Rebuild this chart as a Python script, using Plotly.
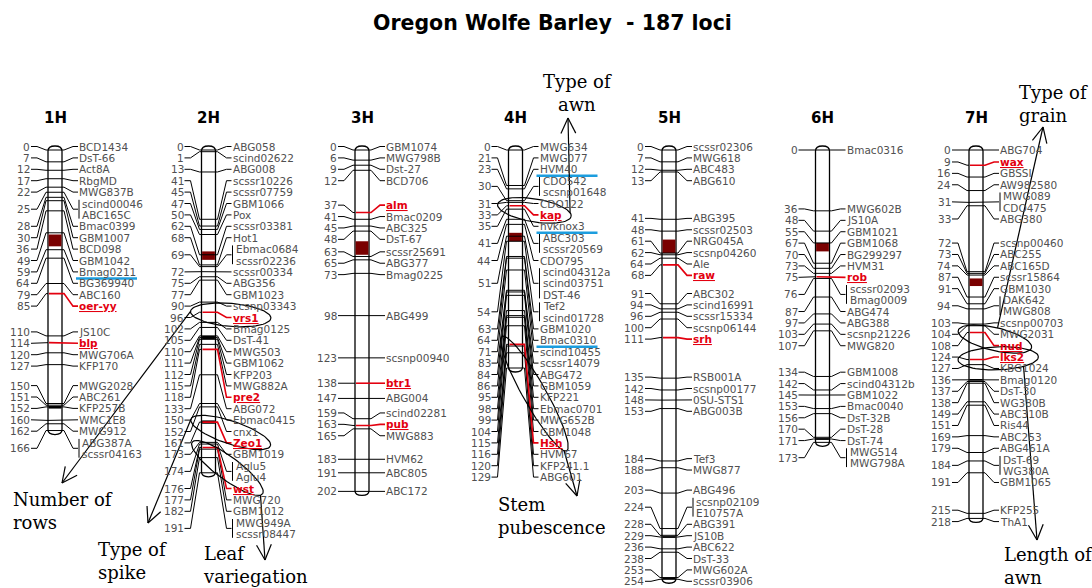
import math
import plotly.graph_objects as go

TITLE = "Oregon Wolfe Barley  - 187 loci"
CHROMOSOMES = ["1H", "2H", "3H", "4H", "5H", "6H", "7H"]

cm_1H = [0, 7, 12, 17, 22, 25, 25, 28, 30, 36, 49, 59, 64, 79, 85, 110, 114, 120, 127, 150, 151, 152, 160, 162, 166, 166]
loci_1H = ["BCD1434", "DsT-66", "Act8A", "RbgMD", "MWG837B", "scind00046", "ABC165C", "Bmac0399", "GBM1007", "BCD098",
           "GBM1042", "Bmag0211", "BG369940", "ABC160", "oer-yy", "JS10C", "blp", "MWG706A", "KFP170", "MWG2028",
           "ABC261", "KFP257B", "WMC1E8", "MWG912", "ABG387A", "scssr04163"]

cm_2H = [0, 1, 13, 41, 45, 47, 50, 62, 68, 69, 69, 72, 75, 77, 90, 96, 102, 105, 110, 111, 112, 115, 118, 133, 150,
         152, 161, 173, 174, 174, 176, 177, 182, 191, 191]
loci_2H = ["ABG058", "scind02622", "ABG008", "scssr10226", "scssr07759", "GBM1066", "Pox", "scssr03381", "Hot1",
           "Ebmac0684", "scssr02236", "scssr00334", "ABG356", "GBM1023", "scsnp03343", "vrs1", "Bmag0125", "DsT-41",
           "MWG503", "GBM1062", "KFP203", "MWG882A", "pre2", "ABG072", "Ebmac0415", "cnx1", "Zeo1", "GBM1019",
           "Aglu5", "Aglu4", "wst", "MWG720", "GBM1012", "MWG949A", "scssr08447"]

cm_3H = [0, 6, 9, 12, 37, 41, 45, 48, 63, 65, 73, 98, 123, 138, 147, 159, 163, 165, 183, 191, 202]
loci_3H = ["GBM1074", "MWG798B", "Dst-27", "BCD706", "alm", "Bmac0209", "ABC325", "DsT-67", "scssr25691", "ABG377",
           "Bmag0225", "ABG499", "scsnp00940", "btr1", "ABG004", "scind02281", "pub", "MWG883", "HVM62", "ABC805",
           "ABC172"]

cm_4H = [0, 21, 23, 30, 30, 31, 33, 35, 41, 41, 44, 51, 51, 51, 54, 54, 63, 64, 71, 83, 84, 86, 95, 98, 99, 104,
         115, 116, 120, 129]
loci_4H = ["MWG634", "MWG077", "HVM40", "CDO542", "scsnp01648", "CDO122", "kap", "hvknox3", "ABC303", "scssr20569",
           "CDO795", "scind04312a", "scind03751", "DST-46", "Tef2", "scind01728", "GBM1020", "Bmac0310",
           "scind10455", "scssr14079", "ABG472", "GBM1059", "KFP221", "Ebmac0701", "MWG652B", "GBM1048", "Hsh",
           "HVM67", "KFP241.1", "ABG601"]

cm_5H = [0, 7, 12, 13, 41, 48, 61, 62, 64, 68, 91, 94, 96, 100, 111, 135, 142, 148, 153, 184, 188, 203, 224, 224,
         228, 229, 236, 238, 253, 254]
loci_5H = ["scssr02306", "MWG618", "ABC483", "ABG610", "ABG395", "scssr02503", "NRG045A", "scsnp04260", "Ale", "raw",
           "ABC302", "scind16991", "scssr15334", "scsnp06144", "srh", "RSB001A", "scsnp00177", "0SU-STS1", "ABG003B",
           "Tef3", "MWG877", "ABG496", "scsnp02109", "E10757A", "ABG391", "JS10B", "ABC622", "DsT-33", "MWG602A",
           "scssr03906"]

cm_6H = [0, 36, 48, 55, 67, 70, 73, 75, 76, 76, 87, 97, 103, 107, 134, 142, 145, 153, 156, 170, 171, 173, 173]
loci_6H = ["Bmac0316", "MWG602B", "JS10A", "GBM1021", "GBM1068", "BG299297", "HVM31", "rob", "scssr02093",
           "Bmag0009", "ABG474", "ABG388", "scsnp21226", "MWG820", "GBM1008", "scind04312b", "GBM1022", "Bmac0040",
           "DsT-32B", "DsT-28", "DsT-74", "MWG514", "MWG798A"]

cm_7H = [0, 9, 16, 24, 31, 31, 33, 72, 73, 74, 87, 91, 94, 94, 103, 104, 108, 124, 127, 136, 137, 138, 149, 151, 169,
         179, 184, 184, 191, 215, 218]
loci_7H = ["ABG704", "wax", "GBSSI", "AW982580", "MWG089", "CDO475", "ABG380", "scsnp00460", "ABC255", "ABC165D",
           "scssr15864", "GBM1030", "DAK642", "MWG808", "scsnp00703", "MWG2031", "nud", "lks2", "KBG1024",
           "Bmag0120", "DsT-30", "WG380B", "ABC310B", "Ris44", "ABC253", "ABG461A", "DsT-69", "WG380A", "GBM1065",
           "KFP255", "ThA1"]

CM = [cm_1H, cm_2H, cm_3H, cm_4H, cm_5H, cm_6H, cm_7H]
LOCI = [loci_1H, loci_2H, loci_3H, loci_4H, loci_5H, loci_6H, loci_7H]

TRAITS = ["oer-yy", "blp", "vrs1", "pre2", "Zeo1", "wst", "alm", "btr1", "pub", "kap", "Hsh", "raw", "srh", "rob",
          "wax", "nud", "lks2"]
HIGHLIGHTED = ["Bmag0211", "HVM40", "hvknox3", "Bmac0310"]

CENTROMERE_START = [50, 60, 54, 49, 53, 55, 76]
CENTROMERE_END = [57, 65, 62, 54, 61, 60, 80.5]

BAND_CHROM = ["1H", "2H", "2H", "5H", "5H", "6H", "7H"]
BAND_START = [151.5, 110, 160, 228.5, 253, 170.5, 135.5]
BAND_END = [153, 112, 162, 229.5, 254, 171.5, 136.5]

CALLOUT_TRAIT = ["vrs1", "Zeo1", "wst", "kap", "Hsh", "nud", "lks2"]
CALLOUT_TEXT = ["Number of<br>rows", "Type of<br>spike", "Leaf<br>variegation", "Type of<br>awn",
                "Stem<br>pubescence", "Type of<br>grain", "Length of<br>awn"]

# ---------------- layout / style constants ----------------
W, H = 1092, 588
X0, DX = 55, 153.5
Y0, K = 150, 1.69
LH = 11.4
HW = 7
FONT = "DejaVu Sans"
SERIF = "DejaVu Serif"
FS = 10.5
GREY = "#505050"
RED = "#E3000F"
BLUE = "#1C9DDE"
DARK = "#7A0000"

# callout geometry (text position, anchor, arrow tip, point on ellipse)
CALLOUT_STYLE = {
    "vrs1": dict(tx=12, ty=511, anchor="left", tip=(62, 483), t=math.pi),
    "Zeo1": dict(tx=97, ty=561, anchor="left", tip=(148, 523), t=math.pi),
    "wst": dict(tx=202, ty=565, anchor="left", tip=(265, 560), t=0.2),
    "kap": dict(tx=577, ty=93, anchor="center", tip=(568, 118), t=-0.3),
    "Hsh": dict(tx=497, ty=516, anchor="left", tip=(577, 496), t=0.2),
    "nud": dict(tx=1018, ty=104, anchor="left", tip=(1043, 127), t=-math.pi / 2),
    "lks2": dict(tx=1003, ty=566, anchor="left", tip=(1037, 540), t=0.9),
}


def ypx(cm):
    return Y0 + cm * K


def spread(ideal, heights, ymin, ymax):
    clusters = []
    for i in range(len(ideal)):
        clusters.append([[i], ideal[i] - heights[i] / 2])
        while True:
            if len(clusters) == 1:
                if clusters[0][1] < ymin:
                    clusters[0][1] = ymin
                break
            (ia, ta), (ib, tb) = clusters[-2], clusters[-1]
            ha = sum(heights[j] for j in ia)
            if ta + ha > tb + 1e-6:
                items = ia + ib
                off = 0.0
                s = 0.0
                for j in items:
                    s += ideal[j] - off - heights[j] / 2
                    off += heights[j]
                clusters[-2:] = [[items, s / len(items)]]
            else:
                break
    # bottom limit: push clusters up if needed
    limit = ymax
    for cl in reversed(clusters):
        hh = sum(heights[j] for j in cl[0])
        if cl[1] + hh > limit:
            cl[1] = limit - hh
        limit = cl[1]
    tops = {}
    for items, t in clusters:
        off = 0.0
        for j in items:
            tops[j] = t + off
            off += heights[j]
    return [tops[i] for i in range(len(ideal))]


bx, by = [], []      # black lines
rx, ry = [], []      # red lines
ux, uy = [], []      # blue underlines
ex, ey = [], []      # ellipses + arrows


def seg(xs, ys, pts):
    for p in pts:
        xs.append(p[0])
        ys.append(p[1])
    xs.append(None)
    ys.append(None)


shapes = []
annotations = []
trait_geom = {}

annotations.append(dict(x=W / 2 + 6, y=23, text="<b>" + TITLE + "</b>", showarrow=False, xref="x", yref="y",
                        font=dict(family=FONT, size=20.5, color="black"), xanchor="center", yanchor="middle"))

for ci, chrom in enumerate(CHROMOSOMES):
    c = X0 + ci * DX
    cms = CM[ci]
    names = LOCI[ci]
    top = Y0 - 4
    bot = ypx(max(cms)) + 4
    shapes.append(dict(type="path", xref="x", yref="y", layer="below",
                       path=(f"M {c - HW},{top + 5} Q {c - HW},{top} {c},{top} Q {c + HW},{top} {c + HW},{top + 5} "
                             f"L {c + HW},{bot - 5} Q {c + HW},{bot} {c},{bot} Q {c - HW},{bot} {c - HW},{bot - 5} Z"),
                       fillcolor="white", line=dict(color="black", width=1.3)))
    shapes.append(dict(type="rect", xref="x", yref="y", layer="below",
                       x0=c - HW + 0.6, x1=c + HW - 0.6, y0=ypx(CENTROMERE_START[ci]), y1=ypx(CENTROMERE_END[ci]),
                       fillcolor=DARK, line=dict(width=0)))
    for bc, b0, b1 in zip(BAND_CHROM, BAND_START, BAND_END):
        if bc == chrom:
            shapes.append(dict(type="rect", xref="x", yref="y", layer="below",
                               x0=c - HW + 0.6, x1=c + HW - 0.6, y0=ypx(b0), y1=ypx(b1),
                               fillcolor="black", line=dict(width=0)))
    annotations.append(dict(x=c, y=118, text="<b>" + chrom + "</b>", showarrow=False, xref="x", yref="y",
                            font=dict(family=FONT, size=15, color="black"), xanchor="center", yanchor="middle"))

    groups = []
    for cm, nm in zip(cms, names):
        if groups and groups[-1][0] == cm:
            groups[-1][1].append(nm)
        else:
            groups.append([cm, [nm]])
    ideal = [ypx(g[0]) for g in groups]
    heights = [len(g[1]) * LH for g in groups]
    tops = spread(ideal, heights, Y0 - 3.5 - LH / 2, H - 1)

    for g, t0, hh, ty in zip(groups, tops, heights, ideal):
        gc = t0 + hh / 2
        is_trait = any(n in TRAITS for n in g[1])
        annotations.append(dict(x=c - 24, y=gc, text=str(g[0]), showarrow=False, xref="x", yref="y",
                                font=dict(family=FONT, size=FS, color=GREY), xanchor="right", yanchor="middle",
                                borderpad=0))
        seg(bx, by, [(c - 24, gc), (c - 18, gc), (c - 9, ty), (c - HW, ty)])
        if is_trait:
            seg(rx, ry, [(c - HW + 1, ty), (c + HW, ty), (c + 9, ty), (c + 18, gc), (c + 23, gc)])
        else:
            seg(bx, by, [(c - HW, ty), (c + HW, ty), (c + 9, ty), (c + 18, gc), (c + 23, gc)])
        multi = len(g[1]) > 1
        if multi:
            seg(bx, by, [(c + 24, t0 + 2), (c + 24, t0 + hh - 2)])
        x_text = c + 26 if multi else c + 23
        for k, nm in enumerate(g[1]):
            ry_ = t0 + LH / 2 + k * LH
            if nm in TRAITS:
                txt = "<b><u>" + nm + "</u></b>"
                col = RED
                trait_geom[nm] = (c, ty, x_text, ry_, nm)
            else:
                txt = nm
                col = GREY
            annotations.append(dict(x=x_text, y=ry_, text=txt, showarrow=False, xref="x", yref="y",
                                    font=dict(family=FONT, size=FS, color=col), xanchor="left",
                                    yanchor="middle", borderpad=0))
            if nm in HIGHLIGHTED:
                seg(ux, uy, [(c + 21, ry_ + 6.5), (c + 82, ry_ + 6.5)])

for trait, text in zip(CALLOUT_TRAIT, CALLOUT_TEXT):
    st = CALLOUT_STYLE[trait]
    c, ty, xt, ly, nm = trait_geom[trait]
    p1 = (c - 9, ty)
    p2 = (xt + len(nm) * 6.6 + 4, ly)
    cx, cy = (p1[0] + p2[0]) / 2, (p1[1] + p2[1]) / 2
    dx, dy = p2[0] - p1[0], p2[1] - p1[1]
    L = math.hypot(dx, dy)
    ax_, ay_ = dx / L, dy / L
    vx, vy = -ay_, ax_
    a = L / 2 + 9
    b = 11.5
    pts = []
    for i in range(73):
        t = 2 * math.pi * i / 72
        pts.append((cx + a * math.cos(t) * ax_ + b * math.sin(t) * vx,
                    cy + a * math.cos(t) * ay_ + b * math.sin(t) * vy))
    seg(ex, ey, pts)
    t = st["t"]
    start = (cx + a * math.cos(t) * ax_ + b * math.sin(t) * vx, cy + a * math.cos(t) * ay_ + b * math.sin(t) * vy)
    tip = st["tip"]
    seg(ex, ey, [start, tip])
    ang = math.atan2(start[1] - tip[1], start[0] - tip[0])
    arm = 17
    for s in (-0.45, 0.45):
        seg(ex, ey, [tip, (tip[0] + arm * math.cos(ang + s), tip[1] + arm * math.sin(ang + s))])
    annotations.append(dict(x=st["tx"], y=st["ty"], text=text, showarrow=False, xref="x", yref="y",
                            font=dict(family=SERIF, size=18, color="black"), xanchor=st["anchor"],
                            align=st["anchor"], yanchor="middle", borderpad=0))

fig = go.Figure()
fig.add_trace(go.Scatter(x=bx, y=by, mode="lines", line=dict(color="black", width=1), hoverinfo="skip"))
fig.add_trace(go.Scatter(x=rx, y=ry, mode="lines", line=dict(color=RED, width=1.6), hoverinfo="skip"))
fig.add_trace(go.Scatter(x=ux, y=uy, mode="lines", line=dict(color=BLUE, width=2.5), hoverinfo="skip"))
fig.add_trace(go.Scatter(x=ex, y=ey, mode="lines", line=dict(color="black", width=1.2), hoverinfo="skip"))

fig.update_layout(
    width=W, height=H, margin=dict(l=0, r=0, t=0, b=0),
    paper_bgcolor="white", plot_bgcolor="white", showlegend=False,
    xaxis=dict(range=[0, W], visible=False, fixedrange=True),
    yaxis=dict(range=[H, 0], visible=False, fixedrange=True),
    shapes=shapes, annotations=annotations,
)

fig.write_html("out.html", config={"displayModeBar": False},
               post_script="document.body.style.margin='0';document.body.style.overflow='hidden';")
